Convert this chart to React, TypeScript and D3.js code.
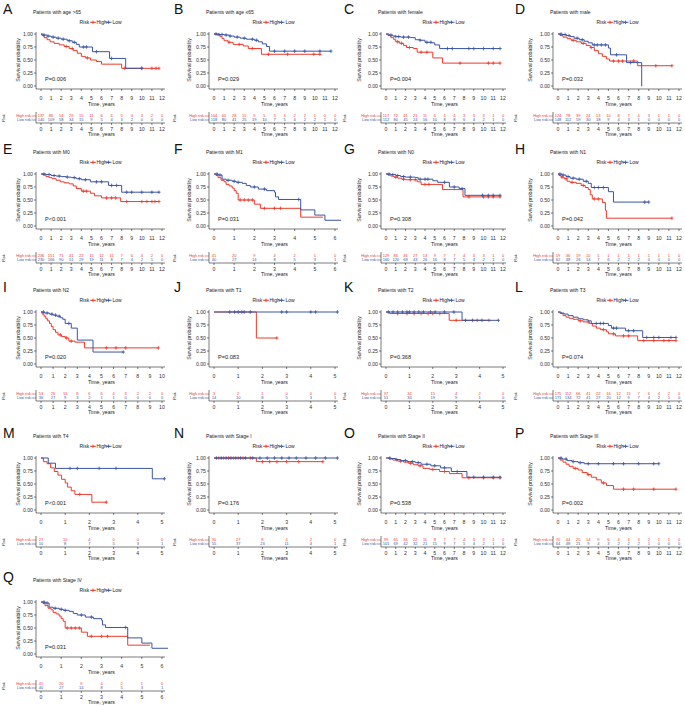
import React from 'react';
import * as d3 from 'd3';

const RED = '#EE3A2C';
const BLUE = '#3A55A5';
const FONT = 'Liberation Sans, Arial, Helvetica, sans-serif';

const letters = ['A','B','C','D','E','F','G','H','I','J','K','L','M','N','O','P','Q'];
const titles = [
  'Patients with age >65','Patients with age \u226465','Patients with female','Patients with male',
  'Patients with M0','Patients with M1','Patients with N0','Patients with N1',
  'Patients with N2','Patients with T1','Patients with T2','Patients with T3',
  'Patients with T4','Patients with Stage I','Patients with Stage II','Patients with Stage III',
  'Patients with Stage IV'];
const pTexts = ['P=0.006','P=0.029','P=0.004','P=0.032','P<0.001','P=0.031','P=0.308','P=0.042',
  'P=0.020','P=0.083','P=0.368','P=0.074','P<0.001','P=0.176','P=0.538','P=0.002','P=0.031'];
const tMax = [12,12,12,12,12,6,12,12,10,5,5,12,5,5,12,12,6];

const highCurves: number[][][] = [
  [[0,1],[0.1,.97],[0.3,.93],[0.6,.89],[0.9,.85],[1.3,.82],[1.8,.79],[2.3,.76],[2.8,.72],[3.2,.68],[3.6,.63],[4.0,.57],[4.4,.54],[4.9,.50],[5.5,.47],[6.0,.42],[8.0,.34],[11.7,.34]],
  [[0,1],[0.3,.98],[0.6,.95],[0.8,.91],[1.0,.87],[1.4,.84],[1.9,.80],[2.9,.77],[3.4,.72],[4.7,.61],[10.6,.61]],
  [[0,1],[0.2,.97],[0.5,.93],[0.8,.89],[1.0,.85],[1.4,.82],[1.8,.78],[2.1,.74],[2.8,.72],[3.2,.65],[4.8,.54],[5.8,.44],[11.7,.44]],
  [[0,1],[0.2,.97],[0.5,.94],[0.9,.91],[1.3,.88],[1.8,.85],[2.3,.82],[2.8,.78],[3.2,.74],[3.6,.68],[4.0,.62],[4.4,.57],[4.8,.52],[5.1,.48],[7.9,.39],[11.3,.39]],
  [[0,1],[0.2,.98],[0.5,.95],[0.8,.93],[1.1,.91],[1.5,.88],[1.9,.85],[2.3,.83],[2.8,.81],[3.2,.77],[3.5,.72],[4.0,.67],[4.9,.63],[5.3,.58],[6.0,.54],[7.9,.47],[11.7,.47]],
  [[0,1],[0.1,.97],[0.2,.93],[0.35,.88],[0.5,.85],[0.6,.80],[0.75,.77],[0.9,.73],[1.0,.68],[1.1,.63],[1.2,.50],[2.0,.42],[2.3,.34],[4.3,.17],[5.4,.17]],
  [[0,1],[0.2,.98],[0.5,.96],[0.8,.94],[1.2,.92],[1.6,.90],[2.0,.89],[3.2,.85],[3.6,.80],[5.8,.70],[7.9,.56],[11.7,.56]],
  [[0,1],[0.1,.97],[0.3,.94],[0.6,.91],[0.9,.86],[1.2,.84],[1.8,.82],[2.3,.78],[2.7,.74],[3.0,.70],[3.2,.60],[3.4,.52],[4.4,.45],[4.7,.30],[4.8,.15],[11.3,.15]],
  [[0,1],[0.1,.96],[0.25,.92],[0.4,.87],[0.55,.83],[0.7,.78],[0.85,.72],[1.0,.66],[1.2,.61],[1.4,.56],[1.7,.53],[2.0,.50],[2.3,.44],[2.8,.42],[3.6,.31],[9.7,.31]],
  [[0,1],[1.75,.5],[2.6,.5]],
  [[0,1],[0.15,.97],[2.7,.84],[4.4,.84]],
  [[0,1],[0.2,.97],[0.5,.93],[0.8,.90],[1.1,.88],[1.5,.86],[2.0,.83],[2.5,.81],[3.1,.78],[3.4,.73],[3.8,.69],[4.2,.66],[4.8,.62],[5.0,.58],[5.7,.54],[7.9,.45],[11.7,.45]],
  [[0,1],[0.1,.93],[0.25,.89],[0.4,.81],[0.55,.74],[0.7,.67],[0.85,.59],[1.0,.52],[1.1,.44],[1.25,.37],[1.4,.30],[2.1,.15],[2.7,.15]],
  [[0,1],[1.75,.93],[4.5,.93]],
  [[0,1],[0.3,.98],[0.7,.96],[1.2,.94],[1.8,.92],[2.3,.90],[2.8,.87],[3.3,.85],[3.8,.80],[4.5,.78],[5.5,.74],[6.5,.70],[7.8,.62],[11.7,.62]],
  [[0,1],[0.2,.96],[0.5,.92],[0.8,.88],[1.1,.84],[1.5,.80],[2.0,.77],[2.4,.72],[2.9,.68],[3.3,.63],[3.8,.58],[4.3,.52],[4.8,.47],[5.5,.40],[11.7,.40]],
  [[0,1],[0.1,.97],[0.2,.93],[0.35,.88],[0.5,.85],[0.6,.80],[0.75,.77],[0.9,.73],[1.0,.68],[1.1,.63],[1.2,.50],[2.0,.42],[2.3,.34],[4.3,.17],[5.4,.17]],
];

const lowCurves: number[][][] = [
  [[0,1],[0.2,.98],[0.6,.96],[1.0,.94],[1.5,.92],[2.0,.90],[2.6,.87],[3.1,.84],[3.5,.80],[3.8,.75],[5.1,.66],[6.8,.53],[8.4,.34],[10.0,.34]],
  [[0,1],[0.5,.99],[1.0,.98],[1.5,.96],[2.0,.94],[2.6,.92],[3.2,.90],[4.0,.88],[4.4,.85],[4.8,.81],[5.2,.76],[5.5,.67],[11.6,.67]],
  [[0,1],[0.3,.98],[0.7,.96],[1.0,.95],[1.5,.94],[2.5,.93],[3.0,.89],[3.5,.88],[4.0,.84],[4.7,.83],[5.0,.79],[5.5,.72],[11.7,.72]],
  [[0,1],[0.4,.99],[0.8,.97],[1.2,.95],[1.6,.92],[2.1,.89],[2.6,.86],[3.0,.83],[3.4,.79],[5.0,.73],[5.2,.60],[6.8,.45],[8.3,0],[8.35,0]],
  [[0,1],[0.5,.99],[1.0,.97],[1.5,.96],[2.0,.95],[2.5,.94],[3.0,.93],[3.5,.91],[4.0,.89],[4.9,.85],[6.7,.78],[8.0,.65],[11.7,.65]],
  [[0,1],[0.2,.98],[0.4,.90],[0.6,.88],[0.9,.86],[1.1,.84],[1.4,.82],[1.6,.78],[1.8,.75],[2.2,.71],[2.6,.68],[3.0,.65],[3.05,.56],[3.2,.51],[4.3,.31],[5.0,.21],[5.5,.11],[6.3,.11]],
  [[0,1],[0.5,.99],[1.0,.97],[1.5,.95],[2.0,.94],[3.0,.93],[3.3,.90],[4.8,.87],[5.3,.84],[6.5,.75],[7.5,.72],[8.1,.59],[11.7,.59]],
  [[0,1],[0.4,.98],[0.8,.95],[1.2,.92],[1.8,.90],[2.5,.86],[3.0,.82],[3.3,.74],[5.0,.66],[5.5,.46],[9.0,.46]],
  [[0,1],[0.3,.98],[0.7,.96],[1.0,.94],[1.3,.92],[1.6,.89],[1.8,.86],[2.0,.78],[2.5,.69],[3.0,.46],[4.3,.23],[6.8,.23]],
  [[0,1],[5.1,1]],
  [[0,1],[3.25,.84],[4.8,.84]],
  [[0,1],[0.3,.98],[0.6,.96],[1.0,.93],[1.5,.90],[2.0,.87],[2.5,.85],[3.0,.83],[3.3,.78],[5.0,.74],[5.3,.69],[6.7,.64],[8.4,.51],[11.7,.51]],
  [[0,1],[0.3,.9],[0.6,.8],[4.6,.6],[5.1,.6]],
  [[0,1],[5.1,1]],
  [[0,1],[0.5,.99],[1.0,.97],[1.5,.95],[2.2,.93],[3.0,.91],[3.6,.88],[4.6,.85],[5.6,.81],[6.7,.74],[8.3,.63],[11.7,.63]],
  [[0,1],[0.4,.98],[0.9,.95],[1.4,.93],[2.0,.91],[2.6,.89],[10.0,.89]],
  [[0,1],[0.2,.98],[0.4,.90],[0.6,.88],[0.9,.86],[1.1,.84],[1.4,.82],[1.6,.78],[1.8,.75],[2.2,.71],[2.6,.68],[3.0,.65],[3.05,.56],[3.2,.51],[4.3,.31],[5.0,.21],[5.5,.11],[6.3,.11]],
];

const highCens: number[][] = [
  [2.5,3.1,4.6,8.3,10,11,11.4,11.7],
  [1.5,2.5,3.8,5.4,7.3,9.9,10.5],
  [1.2,1.6,2.4,3.6,4.2,7.6,10.5,11,11.7],
  [1.5,2.5,3.3,5.5,6.0,6.4,7.5,9.7,11.3],
  [4.2,4.5,6.5,7.0,7.4,8.5,10,10.5,11,11.3,11.7],
  [1.3,1.5,1.7,1.9,2.5,3.0,3.3],
  [1.0,1.8,2.5,3.0,4.0,4.4,8.5,10,10.5,11,11.7],
  [0.4,0.8,1.4,2.5,3.6,4.0,11.3],
  [1.6,2.1,2.5,5.4,6.2,7.0,9.7],
  [2.6],
  [0.5,0.9,1.2,1.5,1.8,2.0,2.3,3.0,3.9,4.4],
  [2.2,3.0,4.5,5.5,6.5,7.0,8.5,9.5,10.5,11,11.7],
  [1.6,2.7],
  [0.2,0.4,0.6,0.8,1.0,1.2,1.5,2.0,2.3,2.6,3.0,3.5,4.5],
  [1.5,2.5,3.5,4.8,6.0,8.5,10,11,11.7],
  [1.7,3.0,4.5,6.5,7.5,9.5,11.7],
  [1.3,1.5,1.7,1.9,2.5,3.0,3.3],
];

const lowCens: number[][] = [
  [0.3,0.7,1.2,1.7,2.2,2.8,3.3,4.2,4.5,5.5,7.0,10.0],
  [0.2,0.5,0.8,1.2,1.6,2.3,3.0,3.8,4.2,6.0,7.0,8.0,9.0,10.5,11.6],
  [0.5,1.0,1.3,1.8,2.3,3.5,4.2,4.6,6.3,6.8,8.5,9.0,10.0,11.0,11.7],
  [0.3,0.7,1.1,1.9,2.4,3.6,3.9,4.3,4.7,5.8,7.2],
  [0.3,0.8,1.3,1.8,2.6,3.3,3.8,4.4,5.5,6.0,7.0,7.5,8.5,9.0,10.0,11.0,11.7],
  [0.15,0.3,0.7,1.0,1.2,2.0,2.5,4.2],
  [0.3,0.7,1.2,1.8,2.5,3.5,4.0,4.3,6.0,7.0,7.8,9.9,10.5,11.0,11.7],
  [0.2,0.5,1.0,1.5,2.1,2.8,3.6,4.0,4.5,8.6,9.0],
  [0.2,0.5,0.9,1.2,1.5,2.3,6.8],
  [0.65,0.85,1.0,1.15,1.25,1.5,2.8,3.0,4.0,4.2,5.1],
  [0.1,0.3,0.5,0.7,0.9,1.0,1.2,1.4,1.6,1.9,2.1,2.5,2.9,3.4,3.7,4.1,4.8],
  [3.8,4.2,4.5,5.5,5.8,7.0,7.5,8.8,9.5,10.0,11.2,11.7],
  [1.2,1.5,2.4,3.1,5.1],
  [0.1,0.3,0.5,0.7,0.9,1.1,1.3,1.6,1.9,2.2,2.5,2.8,3.1,3.4,3.8,4.2,4.6,5.1],
  [0.4,1.1,2.0,2.7,3.3,4.2,5.0,6.0,7.3,9.0,10.0,11.0,11.7],
  [0.3,0.8,1.5,2.2,3.0,4.0,5.5,6.5,8.0,9.5,10.0],
  [0.15,0.3,0.7,1.0,1.2,2.0,2.5,4.2],
];

const highRisk: number[][] = [
  [137,86,54,29,15,11,6,6,5,4,3,2,0],
  [104,60,28,15,9,5,3,3,2,2,1,0,0],
  [117,72,41,21,11,6,4,4,3,3,3,1,0],
  [124,78,39,24,13,10,8,7,4,3,1,1,0],
  [236,151,71,41,22,15,12,11,7,6,4,2,0],
  [41,20,9,4,2,1,0],
  [129,86,46,27,13,9,7,7,4,3,3,1,0],
  [59,36,19,10,5,1,1,1,1,1,1,1,0],
  [53,26,16,8,6,6,4,3,2,2,0],
  [3,2,1,0,0,0],
  [37,34,15,4,2,0],
  [175,112,66,41,22,16,12,11,7,6,4,2,0],
  [27,10,4,0,0,0],
  [30,27,8,4,2,0],
  [99,65,36,22,11,8,7,7,4,3,3,1,0],
  [70,44,25,14,9,6,4,4,3,2,1,1,0],
  [41,20,9,4,2,1,0],
];

const lowRisk: number[][] = [
  [140,109,58,34,15,9,5,4,3,2,0,0,0],
  [118,80,41,25,19,10,7,5,4,2,2,1,0],
  [112,80,45,24,16,10,8,8,6,4,2,1,0],
  [148,112,59,30,18,9,4,3,1,0,0,0,0],
  [230,166,90,51,29,19,11,8,7,4,2,1,0],
  [40,27,14,8,5,3,1],
  [160,120,68,43,26,16,8,7,5,4,2,1,0],
  [62,48,26,14,7,6,2,2,2,0,0,0,0],
  [36,27,9,3,2,1,1,0,0,0,0],
  [14,10,8,5,3,1],
  [51,34,19,9,1,0],
  [171,134,72,41,27,20,12,9,7,4,2,1,0],
  [10,8,7,5,3,1],
  [55,37,23,11,4,1],
  [101,69,42,32,21,15,9,7,5,4,2,1,0],
  [64,48,21,9,4,3,2,2,2,1,0,0,0],
  [40,27,14,8,5,3,1],
];

const yTicks = [0, 0.25, 0.5, 0.75, 1];

const colX = [0, 171, 341, 512];
const plotX0 = [41, 214, 386, 558];
const plotX1 = [162, 335, 503, 679];
const rowT = [12, 152, 290, 436, 580];

function survAt(curve: number[][], t: number) {
  let s = 1;
  for (const p of curve) { if (p[0] <= t) s = p[1]; else break; }
  return s;
}

function Panel({ i }: { i: number }) {
  const col = i % 4;
  const row = Math.floor(i / 4);
  const cx = colX[col];
  const T = rowT[row];
  const x = d3.scaleLinear().domain([0, tMax[i]]).range([plotX0[col], plotX1[col]]);
  const y = d3.scaleLinear().domain([0, 1]).range([T + 74, T + 22]);
  const axX = plotX0[col] - 5;
  const axEnd = plotX1[col] + 3;
  const line = d3.line<number[]>().x(d => x(d[0])).y(d => y(d[1])).curve(d3.curveStepAfter);
  const xt = d3.range(0, tMax[i] + 1, 1);
  const mid = (plotX0[col] + plotX1[col]) / 2;
  const fs = 5.2;
  const plus = (px: number, py: number, c: string, k: string) => (
    <g key={k} stroke={c} strokeWidth={0.8}>
      <line x1={px - 1.6} x2={px + 1.6} y1={py} y2={py} />
      <line x1={px} x2={px} y1={py - 1.8} y2={py + 1.8} />
    </g>
  );
  const series = [
    { curve: highCurves[i], cens: highCens[i], col: RED },
    { curve: lowCurves[i], cens: lowCens[i], col: BLUE },
  ];
  const tableY = [T + 104, T + 108];
  return (
    <g fontFamily={FONT}>
      <text x={cx + 3} y={T + 2} fontSize={14} fill="#111">{letters[i]}</text>
      <text x={plotX0[col] - 8} y={T + 2} fontSize={5} fill="#222">{titles[i]}</text>
      <g fontSize={5} fill="#222">
        <text x={mid - 22} y={T + 12}>Risk</text>
        <line x1={mid - 11.5} x2={mid - 5.5} y1={T + 10.3} y2={T + 10.3} stroke={RED} strokeWidth={0.9} />
        {plus(mid - 8.5, T + 10.3, RED, 'lh')}
        <text x={mid - 5} y={T + 12}>High</text>
        <line x1={mid + 4} x2={mid + 10} y1={T + 10.3} y2={T + 10.3} stroke={BLUE} strokeWidth={0.9} />
        {plus(mid + 7, T + 10.3, BLUE, 'll')}
        <text x={mid + 11} y={T + 12}>Low</text>
      </g>
      <line x1={axX} x2={axX} y1={T + 20} y2={T + 77} stroke="#222" strokeWidth={0.6} />
      <line x1={axX} x2={axEnd} y1={T + 77} y2={T + 77} stroke="#222" strokeWidth={0.6} />
      {yTicks.map(v => (
        <g key={'y' + v}>
          <line x1={axX - 2} x2={axX} y1={y(v)} y2={y(v)} stroke="#222" strokeWidth={0.6} />
          <text x={axX - 3} y={y(v) + 1.8} fontSize={fs} textAnchor="end" fill="#333">{v.toFixed(2)}</text>
        </g>
      ))}
      {xt.map(v => (
        <g key={'x' + v}>
          <line x1={x(v)} x2={x(v)} y1={T + 77} y2={T + 79} stroke="#222" strokeWidth={0.6} />
          <text x={x(v)} y={T + 87.5} fontSize={fs} textAnchor="middle" fill="#333">{v}</text>
        </g>
      ))}
      <text x={mid} y={T + 93.5} fontSize={fs} textAnchor="middle" fill="#222">Time, years</text>
      <text transform={`translate(${cx + 20},${T + 48}) rotate(-90)`} fontSize={fs} textAnchor="middle" fill="#222">Survival probability</text>
      <text x={plotX0[col] + 4} y={T + 69} fontSize={5.6} fill="#222">{pTexts[i]}</text>
      {series.map((s, k) => (
        <g key={'s' + k}>
          <path d={line(s.curve) || ''} fill="none" stroke={s.col} strokeWidth={1} />
          {s.cens.map((c, j) => plus(x(c), y(survAt(s.curve, c)), s.col, 'c' + k + '_' + j))}
        </g>
      ))}
      <text transform={`translate(${cx + 5},${T + 106}) rotate(-90)`} fontSize={3.8} textAnchor="middle" fill="#222">Risk</text>
      <text x={axX - 5} y={tableY[0] + 1.4} fontSize={3.8} textAnchor="end" fill={RED}>High risk</text>
      <text x={axX - 5} y={tableY[1] + 1.4} fontSize={3.8} textAnchor="end" fill={BLUE}>Low risk</text>
      <line x1={axX - 4.5} x2={axX} y1={tableY[0]} y2={tableY[0]} stroke={RED} strokeWidth={0.6} />
      <line x1={axX - 4.5} x2={axX} y1={tableY[1]} y2={tableY[1]} stroke={BLUE} strokeWidth={0.6} />
      <line x1={axX} x2={axX} y1={T + 100} y2={T + 111} stroke="#222" strokeWidth={0.6} />
      <line x1={axX} x2={axEnd} y1={T + 111} y2={T + 111} stroke="#222" strokeWidth={0.6} />
      {xt.map((v, j) => (
        <g key={'r' + v}>
          <text x={x(v)} y={tableY[0] + 1.4} fontSize={4} textAnchor="middle" fill={RED}>{highRisk[i][j]}</text>
          <text x={x(v)} y={tableY[1] + 1.4} fontSize={4} textAnchor="middle" fill={BLUE}>{lowRisk[i][j]}</text>
          <line x1={x(v)} x2={x(v)} y1={T + 111} y2={T + 113} stroke="#222" strokeWidth={0.6} />
          <text x={x(v)} y={T + 118.5} fontSize={fs} textAnchor="middle" fill="#333">{v}</text>
        </g>
      ))}
      <text x={mid} y={T + 124} fontSize={fs} textAnchor="middle" fill="#222">Time, years</text>
    </g>
  );
}

export default function App() {
  return (
    <svg width={685} height={706} style={{ position: 'absolute', left: 0, top: 0, background: '#fff' }}>
      <rect width={685} height={706} fill="#fff" />
      {letters.map((_, i) => <Panel key={i} i={i} />)}
    </svg>
  );
}
